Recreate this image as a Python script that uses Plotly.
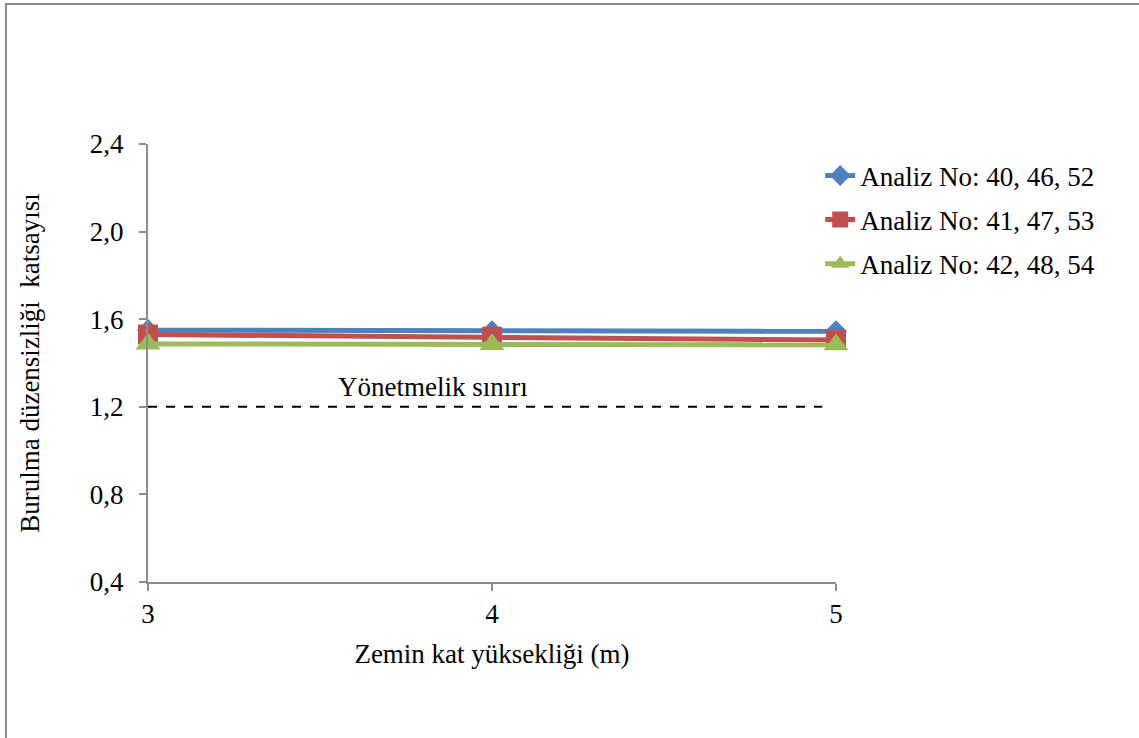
import plotly.graph_objects as go

# Ground-floor height (m)
heights = [3, 4, 5]

# Torsional irregularity coefficient per analysis group
series_names = ["Analiz No: 40, 46, 52", "Analiz No: 41, 47, 53", "Analiz No: 42, 48, 54"]
vals_40_46_52 = [1.55, 1.545, 1.545]
vals_41_47_53 = [1.53, 1.52, 1.505]
vals_42_48_54 = [1.487, 1.485, 1.483]

# Code limit
limit_value = 1.2
limit_label = "Yönetmelik sınırı"

y_ticks = [0.4, 0.8, 1.2, 1.6, 2.0, 2.4]

colors = ["#4F81BD", "#C0504D", "#9BBB59"]
symbols = ["diamond", "square", "triangle-up"]
sizes = [17, 20, 22]

FONT = "Liberation Serif"
FS = 27

fig = go.Figure()

# Dashed limit line
fig.add_trace(go.Scatter(
    x=[heights[0], 4.96], y=[limit_value, limit_value],
    mode="lines", line=dict(color="black", width=2, dash="dash"),
    showlegend=False, hoverinfo="skip",
))

for i, vals in enumerate([vals_40_46_52, vals_41_47_53, vals_42_48_54]):
    fig.add_trace(go.Scatter(
        x=heights, y=vals, name=series_names[i],
        mode="lines+markers",
        line=dict(color=colors[i], width=5),
        marker=dict(symbol=symbols[i], size=sizes[i], color=colors[i]),
        cliponaxis=False,
        legendgroup=f"g{i}",
    ))

fig.add_annotation(
    x=3.828, y=1.2, yshift=20, text=limit_label, showarrow=False,
    font=dict(family=FONT, size=FS, color="black"),
)

# Outer chart frame
fig.add_shape(
    type="rect", xref="paper", yref="paper",
    x0=-0.2064, x1=1.6, y0=-0.5, y1=1.3196,
    line=dict(color="#8c8c8c", width=2), fillcolor="rgba(0,0,0,0)",
    layer="below",
)

fig.update_layout(
    width=1139, height=738,
    margin=dict(l=148, r=303, t=144, b=156),
    paper_bgcolor="white", plot_bgcolor="white",
    separators=",.",
    font=dict(family=FONT, size=FS, color="black"),
    legend=dict(
        x=0.977, xanchor="left", y=0.983, yanchor="top",
        font=dict(family=FONT, size=FS, color="black"),
        tracegroupgap=6, traceorder="grouped",
        bgcolor="rgba(0,0,0,0)",
    ),
    xaxis=dict(
        range=[3, 5], tickvals=heights, ticktext=[str(h) for h in heights],
        showgrid=False, zeroline=False,
        showline=True, linecolor="#8c8c8c", linewidth=2,
        ticks="outside", ticklen=7, tickcolor="#8c8c8c", tickwidth=2,
        ticklabelstandoff=0,
        tickfont=dict(family=FONT, size=FS),
        title=dict(text="Zemin kat yüksekliği (m)", font=dict(family=FONT, size=FS), standoff=16),
    ),
    yaxis=dict(
        range=[0.4, 2.4], tickvals=y_ticks, tickformat=".1f",
        showgrid=False, zeroline=False,
        showline=True, linecolor="#8c8c8c", linewidth=2,
        ticks="outside", ticklen=7, tickcolor="#8c8c8c", tickwidth=2,
        ticklabelstandoff=10,
        tickfont=dict(family=FONT, size=FS),
        title=dict(text="Burulma düzensizliği  katsayısı", font=dict(family=FONT, size=FS), standoff=42),
    ),
)

fig.write_html("out.html")
